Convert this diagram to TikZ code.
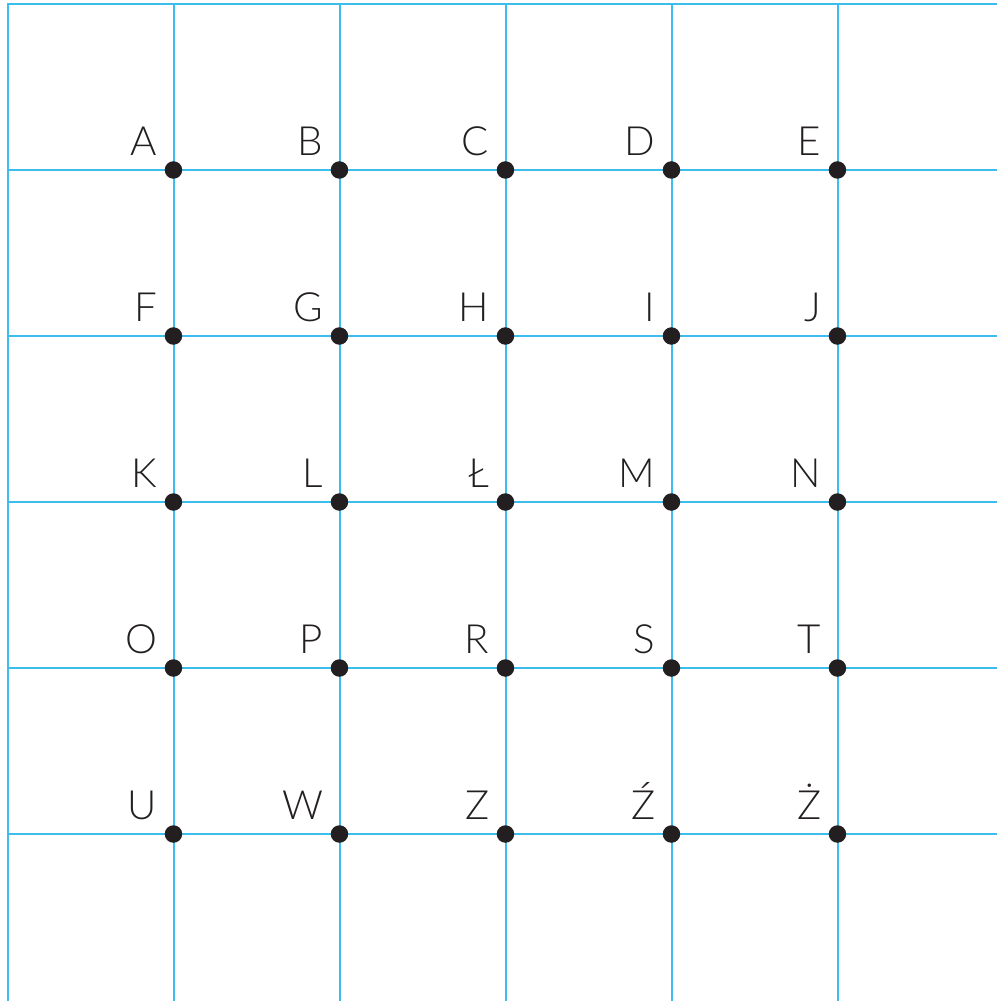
\documentclass[tikz,border=0pt]{standalone}
\usepackage{fontspec}
\setmainfont{Lato}[UprightFont=* Light]
\usepackage{xcolor}
\usepackage{tikz}
\usetikzlibrary{calc}
\definecolor{gridx}{HTML}{3CBDEE}
\definecolor{dotx}{HTML}{231F20}
\tikzset{
  gl/.style={draw=gridx,line width=0.65pt},
  pt/.style={circle,fill=dotx,inner sep=0pt,minimum size=6pt},
  lab/.style={anchor=base east,inner sep=0pt,text=dotx,font=\fontsize{13.8}{16}\selectfont}
}

\begin{document}
\begin{tikzpicture}[x=2cm,y=2cm]
\useasboundingbox (-0.045,0.024) rectangle (5.955,-6.006);
\foreach \k in {0,...,5}{
  \draw[gl] (\k+0.003,0)--(\k+0.003,-6.1);
  \draw[gl] (0,-\k)--(6.1,-\k);
}
\foreach \r/\row in {1/{A,B,C,D,E},2/{F,G,H,I,J},3/{K,L,Ł,M,N},4/{O,P,R,S,T},5/{U,W,Z,Ź,Ż}}{
  \foreach \l [count=\i] in \row {
    \node[pt] (dot-\i-\r) at (\i,-\r) {};
    \node[lab] (lab-\i-\r) at ($(\i,-\r)+(-0.095,0.09)$) {\l};
  }
}
\end{tikzpicture}
\end{document}
